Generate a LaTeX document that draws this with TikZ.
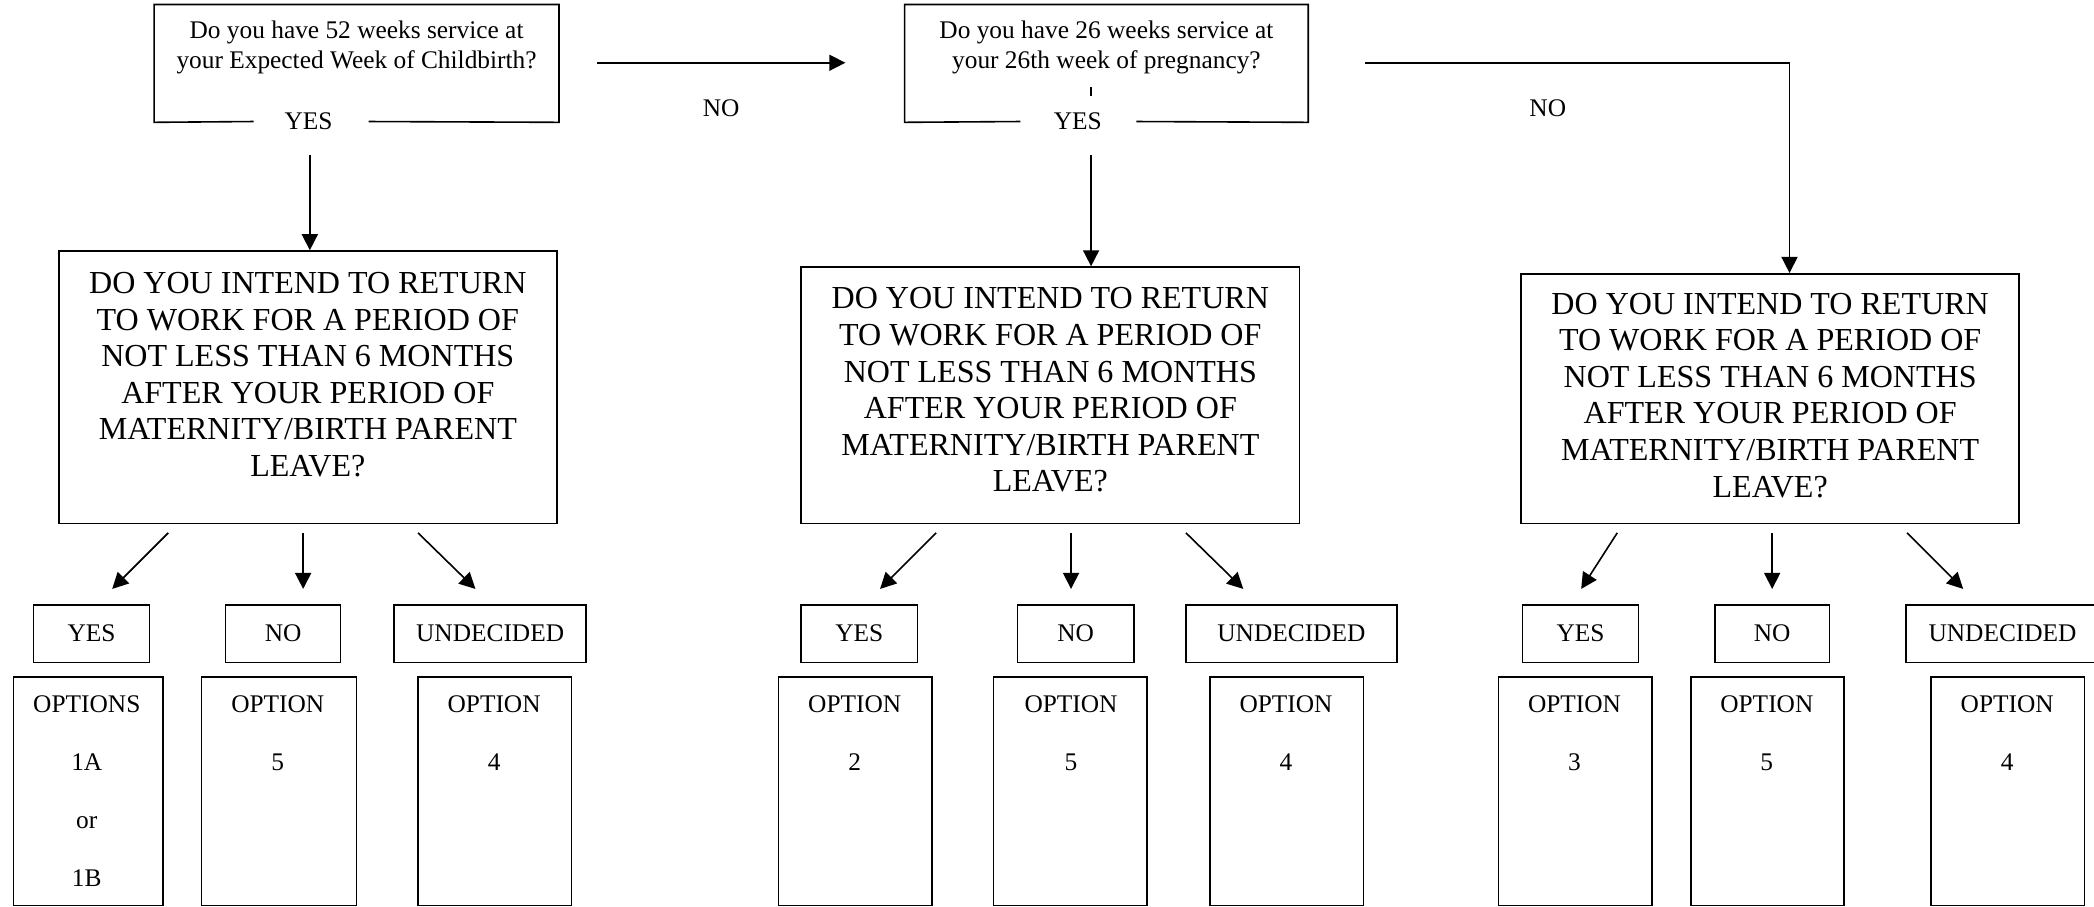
\documentclass[tikz,border=0pt]{standalone}
\usepackage{fontspec}
\setmainfont{Liberation Serif}
\usetikzlibrary{arrows.meta,calc}
\begin{document}
\begin{tikzpicture}[x=0.5pt,y=-0.5pt,line width=0.6pt,
  every node/.style={inner sep=0pt},
  arr/.style={-{Triangle[length=6pt,width=6pt]}},
  smallfont/.style={font=\fontsize{9.5}{11.5}\selectfont},
  bigfont/.style={font=\fontsize{12}{13.7}\selectfont},
  qtext/.style={smallfont, align=center},
  shell/.style 2 args={minimum width=#1*0.5pt, minimum height=#2*0.5pt},
  bigbox/.style={draw, minimum width=186.5pt, minimum height=#1*0.5pt},
  bigtext/.style={bigfont, align=center},
  ansbox/.style={draw, smallfont, minimum width=#1*0.5pt, minimum height=21.5pt},
  optbox/.style={draw, minimum width=#1*0.5pt, minimum height=85.5pt},
  opttext/.style={font=\fontsize{9.5}{21.8}\selectfont, align=center, anchor=north}]
\useasboundingbox (0,0) rectangle (1568,679);

% question 1
\node[shell={302}{87}] (q1) at (267,47.5) {};
\node[qtext] (q1t) at (267,35.5) {Do you have 52 weeks service at\\your Expected Week of Childbirth?};
\node[smallfont] (y1) at (231,91) {YES};
\coordinate (g1l) at (190,91);
\coordinate (g1r) at (276,91);
\draw (g1l) -- (q1.south west) -- (q1.north west) -- (q1.north east) -- (q1.south east) -- (g1r);

% question 2
\node[shell={301}{87}] (q2) at (828.5,47.5) {};
\node[qtext] (q2t) at (828.5,35.5) {Do you have 26 weeks service at\\your 26th week of pregnancy?};
\node[smallfont] (y2) at (807,91) {YES};
\coordinate (g2l) at (764,91);
\coordinate (g2r) at (851,91);
\draw (g2l) -- (q2.south west) -- (q2.north west) -- (q2.north east) -- (q2.south east) -- (g2r);
\coordinate (tk1) at (817,65);
\coordinate (tk2) at (817,72);
\draw (tk1) -- (tk2);

% NO labels
\node[smallfont] (no1) at (540,81) {NO};
\node[smallfont] (no2) at (1159,81) {NO};

% big boxes
\node[bigbox=204] (bA) at (230.5,290) {};
\node[bigtext] (tA) at (230.5,280.5) {DO YOU INTEND TO RETURN\\TO WORK FOR A PERIOD OF\\NOT LESS THAN 6 MONTHS\\AFTER YOUR PERIOD OF\\MATERNITY/BIRTH PARENT\\LEAVE?};
\node[bigbox=192] (bB) at (786.5,296) {};
\node[bigtext] (tB) at (786.5,292) {DO YOU INTEND TO RETURN\\TO WORK FOR A PERIOD OF\\NOT LESS THAN 6 MONTHS\\AFTER YOUR PERIOD OF\\MATERNITY/BIRTH PARENT\\LEAVE?};
\node[bigbox=187] (bC) at (1325.5,298.5) {};
\node[bigtext] (tC) at (1325.5,296) {DO YOU INTEND TO RETURN\\TO WORK FOR A PERIOD OF\\NOT LESS THAN 6 MONTHS\\AFTER YOUR PERIOD OF\\MATERNITY/BIRTH PARENT\\LEAVE?};

% top connectors
\coordinate (n1s) at (447,47);
\coordinate (n1e) at (633,47);
\draw[arr] (n1s) -- (n1e);
\coordinate (n2s) at (1022,47);
\coordinate (n2k) at (1340,47);
\draw[arr] (n2s) -- (n2k) -- (n2k |- bC.north);
\coordinate (v1) at (232,116);
\draw[arr] (v1) -- (v1 |- bA.north);
\coordinate (v2) at (817,116);
\draw[arr] (v2) -- (v2 |- bB.north);

% branch arrows
\foreach \nm/\xa/\xb in {A1/126/84, A2/227/227, A3/313/356,
                         B1/701/659, B2/802/802, B3/888/931,
                         C1/1211/1184, C2/1327/1327, C3/1428/1470}{
  \coordinate (s\nm) at (\xa,399);
  \coordinate (e\nm) at (\xb,441);
  \draw[arr] (s\nm) -- (e\nm);
}

% answer boxes
\foreach \nm/\cx/\w/\txt in {aA1/68.5/87/YES, aA2/212/86/NO, aA3/367/144/UNDECIDED,
                             aB1/643.5/87/YES, aB2/805.5/87/NO, aB3/967/158/UNDECIDED,
                             aC1/1183.5/87/YES, aC2/1327/86/NO, aC3/1499.5/145/UNDECIDED}{
  \node[ansbox=\w] (\nm) at (\cx,474.5) {\txt};
}

% option boxes
\foreach \nm/\cx/\w/\tx/\txt in {oA1/66/112/65/{OPTIONS\\1A\\or\\1B}, oA2/209/116/208/{OPTION\\5}, oA3/370.5/115/370/{OPTION\\4},
                                 oB1/640.5/115/640/{OPTION\\2}, oB2/801.5/115/802/{OPTION\\5}, oB3/963.5/115/963/{OPTION\\4},
                                 oC1/1179.5/115/1179/{OPTION\\3}, oC2/1323.5/115/1323/{OPTION\\5}, oC3/1503.5/115/1503/{OPTION\\4}}{
  \node[optbox=\w] (\nm) at (\cx,592.5) {};
  \node[opttext] (\nm-t) at (\tx,520) {\txt};
}
\end{tikzpicture}
\end{document}
